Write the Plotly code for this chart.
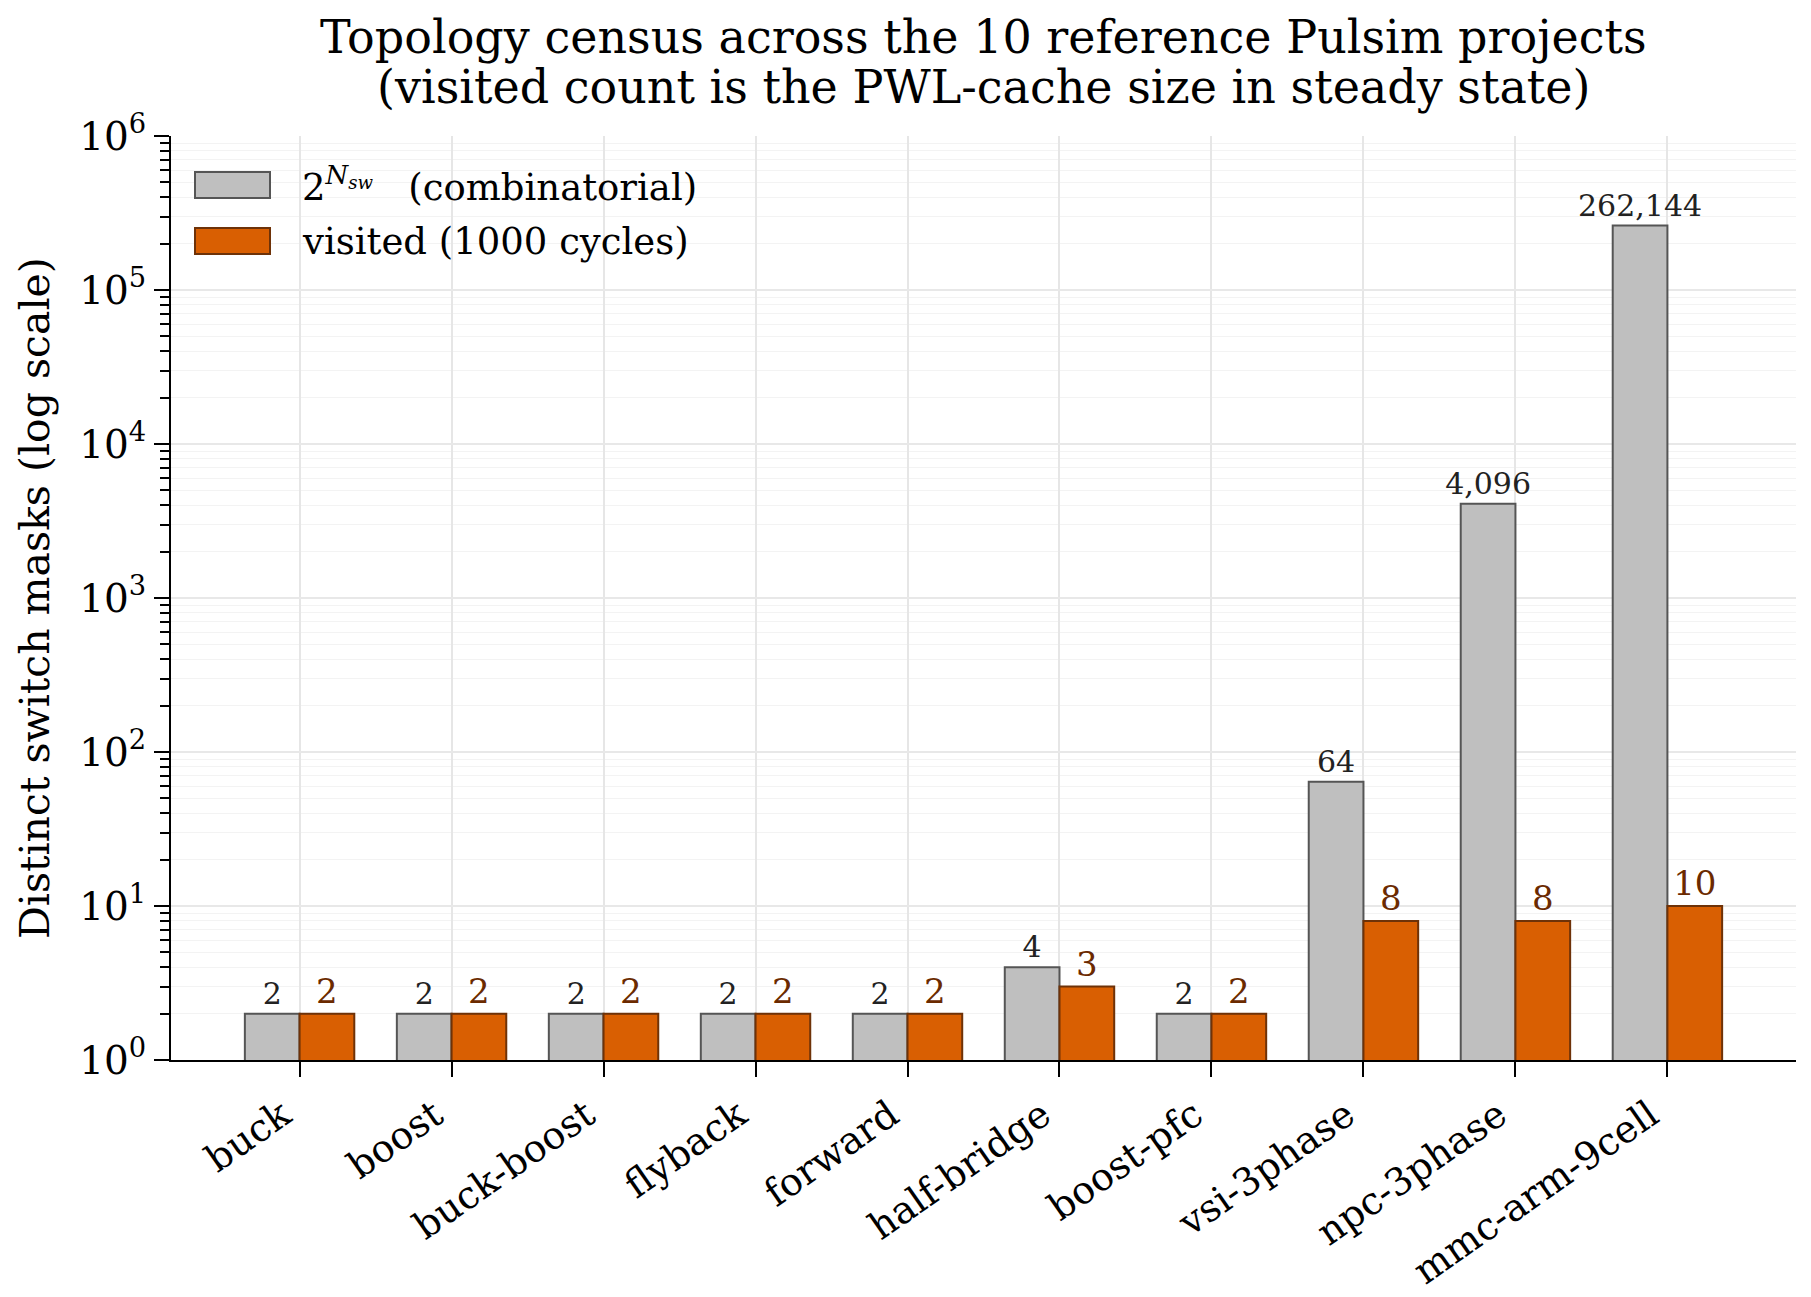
import plotly.graph_objects as go

categories = ["buck", "boost", "buck-boost", "flyback", "forward",
              "half-bridge", "boost-pfc", "vsi-3phase", "npc-3phase", "mmc-arm-9cell"]
combinatorial = [2, 2, 2, 2, 2, 4, 2, 64, 4096, 262144]
visited = [2, 2, 2, 2, 2, 3, 2, 8, 8, 10]
decades = [0, 1, 2, 3, 4, 5, 6]
title_lines = ["Topology census across the 10 reference Pulsim projects",
               "(visited count is the PWL-cache size in steady state)"]

FONT = "DejaVu Serif"
W, H = 1811, 1297
L, R, T, B = 171, 15, 136, 237
PW, PH = W - L - R, H - T - B

x = list(range(len(categories)))

fig = go.Figure()
fig.add_trace(go.Bar(
    x=x, y=combinatorial, name="combinatorial",
    marker=dict(color="#bfbfbf", line=dict(color="#555555", width=2)),
    text=[f"{v:,}" for v in combinatorial], textposition="outside",
    textfont=dict(family=FONT, size=30, color="#222222"),
    constraintext="none", cliponaxis=False, showlegend=False,
))
fig.add_trace(go.Bar(
    x=x, y=visited, name="visited",
    marker=dict(color="#d95f02", line=dict(color="#6e3208", width=2)),
    text=[f"{v:,}" for v in visited], textposition="outside",
    textfont=dict(family=FONT, size=34, color="#6b2a00"),
    constraintext="none", cliponaxis=False, showlegend=False,
))

minor_vals = [k * 10 ** d for d in decades[:-1] for k in range(2, 10)]

fig.update_layout(
    width=W, height=H,
    margin=dict(l=L, r=R, t=T, b=B),
    paper_bgcolor="white", plot_bgcolor="white",
    barmode="group", bargap=0.28, bargroupgap=0.0,
    font=dict(family=FONT, color="black"),
    xaxis=dict(
        range=[-0.846, len(categories) - 1 + 0.846],
        tickmode="array", tickvals=x, ticktext=categories,
        tickangle=-35, tickfont=dict(family=FONT, size=38, color="black"),
        ticks="outside", ticklen=15, tickwidth=2, tickcolor="black",
        ticklabelshift=-17, ticklabelstandoff=1,
        showline=True, linecolor="black", linewidth=2,
        showgrid=True, gridcolor="#e6e6e6", gridwidth=1.5,
        zeroline=False, automargin=False,
    ),
    yaxis=dict(
        type="log", range=[0, 6],
        tickmode="array", tickvals=[10 ** d for d in decades],
        ticktext=[f"10<sup>{d}</sup>" for d in decades],
        tickfont=dict(family=FONT, size=39, color="black"),
        ticks="outside", ticklen=15, tickwidth=2, tickcolor="black",
        showline=True, linecolor="black", linewidth=2,
        showgrid=True, gridcolor="#e8e8e8", gridwidth=1.5,
        minor=dict(tickvals=minor_vals, ticks="outside", ticklen=9,
                   tickwidth=1.5, tickcolor="black",
                   showgrid=True, gridcolor="#f3f3f3", gridwidth=1),
        zeroline=False, automargin=False,
    ),
)

def px_x(v):
    return (v - L) / PW

def px_y(v):
    return 1 - (v - T) / PH

# title (two lines placed individually for matplotlib-like spacing)
for line, cy in zip(title_lines, [37, 87]):
    fig.add_annotation(
        text=line, xref="paper", yref="paper", x=0.5, y=px_y(cy),
        xanchor="center", yanchor="middle", showarrow=False,
        font=dict(family=FONT, size=46, color="black"),
    )
# y-axis label
fig.add_annotation(
    text="Distinct switch masks (log scale)",
    xref="paper", yref="paper", x=px_x(35), y=0.5,
    xanchor="center", yanchor="middle", textangle=-90, showarrow=False,
    font=dict(family=FONT, size=41, color="black"),
)

# legend (drawn manually to mimic wide patches)
legend_items = [
    ("2<sup><i>N<sub>sw</sub></i></sup>   (combinatorial)", "#bfbfbf", "#555555", 185),
    ("visited (1000 cycles)", "#d95f02", "#6e3208", 241),
]
for label, fill, edge, cy in legend_items:
    fig.add_shape(type="rect", xref="paper", yref="paper",
                  x0=px_x(195), x1=px_x(270), y0=px_y(cy - 13), y1=px_y(cy + 13),
                  fillcolor=fill, line=dict(color=edge, width=2))
    fig.add_annotation(text=label, xref="paper", yref="paper",
                       x=px_x(300), y=px_y(cy), xanchor="left", yanchor="middle",
                       showarrow=False, font=dict(family=FONT, size=37, color="black"))

fig.write_html("out.html")
